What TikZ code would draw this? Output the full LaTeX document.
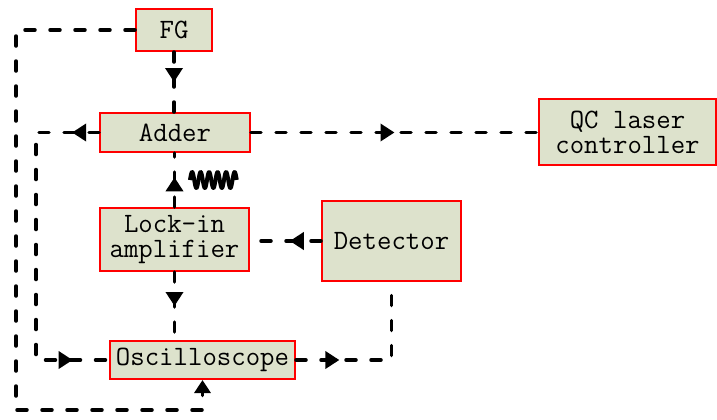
\documentclass[tikz,border=0pt]{standalone}
\usepackage{tikz}
\usetikzlibrary{arrows.meta,decorations.markings,positioning}
\definecolor{greeni}{RGB}{221,226,204}
\definecolor{redi}{RGB}{255,0,0}
\tikzset{
      myblock/.style 2 args={
        draw=redi,
        fill=greeni,
        line width=1pt,
        align=center,
        inner sep=0pt,
        font=\ttfamily\fontsize{14}{12.5}\selectfont,
        minimum width=#1,
        minimum height=#2
      },
      mylink/.style={
        black,
        line width=1.75pt,
        dash pattern=on 5pt off 7.5pt,
        line cap=round
      },
      midarrow/.style={
        postaction={decorate,
          decoration={markings,
            mark=at position #1 with {\arrow{Triangle[length=7pt,width=8.5pt]}}}}
      },
    }
\begin{document}
\begin{tikzpicture}[x=0.5pt,y=-0.5pt]
          \useasboundingbox (0,0) rectangle (717,419);

          \node[myblock={38pt}{21pt}] at (174,30)
            (fg)
            {FG};
          \node[myblock={75pt}{19.5pt}] at (175,132.5)
            (adder)
            {Adder};
          \node[myblock={88.5pt}{33pt}] at (627.5,132)
            (qc)
            {QC laser\\controller};
          \node[myblock={74.5pt}{31.5pt}] at (174.5,239.5)
            (lockin)
            {Lock-in\\amplifier};
          \node[myblock={69.5pt}{40pt}] at (391.5,241)
            (detector)
            {Detector};
          \node[myblock={92.5pt}{19pt}] at (202.5,360)
            (osc)
            {Oscilloscope};

          \draw [mylink,midarrow=0.5] (fg.south) -- (fg.south |- adder.north);
          \draw [mylink,midarrow=0.5] (adder.east) -- (adder.east -| qc.west);
          \draw [mylink,midarrow=0.55] (lockin.north) -- (lockin.north |- adder.south);
          \draw [mylink,midarrow=0.44] (detector.west) -- (detector.west -| lockin.east);
          \draw [mylink,midarrow=0.5] (lockin.south) -- (lockin.south |- osc.north);
          \draw [mylink,midarrow=0.25] (osc.east) -| (detector.south);
          \draw [mylink,midarrow=0.074,midarrow=0.9] (adder.west) -- ++(-63,0) |- (osc.west);
          \draw [mylink,-{Triangle[length=6.5pt,width=8pt]}] (fg.west) -- ++(-119,0) -- ++(0,380) -| (osc.south);

          \draw [line width=2pt,line join=round]
            plot[domain=0:5.5,samples=160,smooth] ({190+\x*8.5},{180-8*sin(\x*360)});
        \end{tikzpicture}
\end{document}
